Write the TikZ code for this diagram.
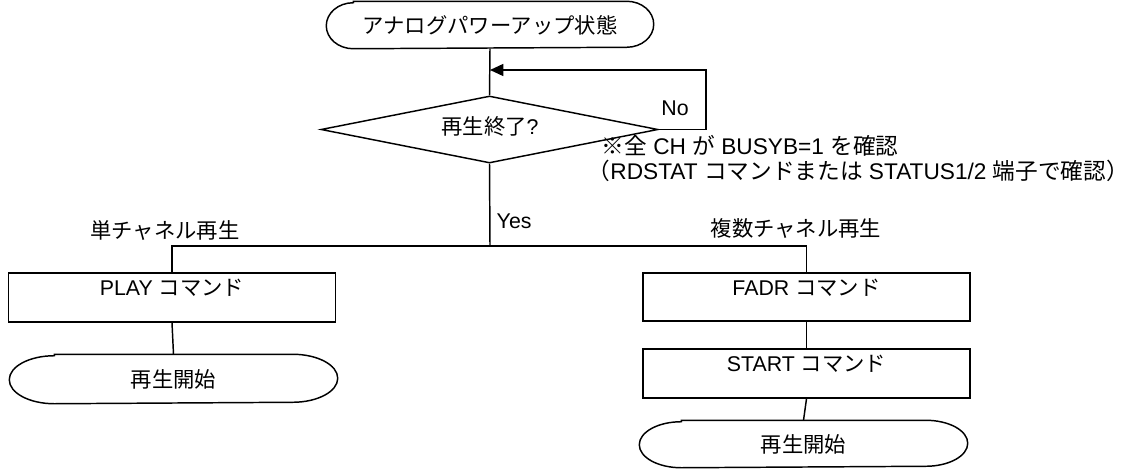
\documentclass[tikz,border=0pt]{standalone}
\usepackage{fontspec}
\setmainfont{Liberation Sans}
\newfontfamily\jp{Noto Sans CJK JP}
\usetikzlibrary{shapes.geometric,arrows.meta}
\newcommand{\mystadium}[3]{%
  \draw ([xshift=#2]#1.north west) -- ([xshift=-#2]#1.north east)
    arc[start angle=90,end angle=-90,x radius=#2,y radius=#3]
    -- ([xshift=#2]#1.south west)
    arc[start angle=270,end angle=90,x radius=#2,y radius=#3] -- cycle;}
\begin{document}
\begin{tikzpicture}[x=0.75pt,y=-0.75pt,line width=1.1pt,
  font=\fontsize{16}{19}\selectfont,
  box/.style={draw,rectangle,minimum width=245.25pt,minimum height=36.75pt,inner sep=0pt},
  termnode/.style={rectangle,inner sep=0pt,minimum width=245.25pt},
  dia/.style={draw,diamond,aspect=6,minimum width=252.75pt,minimum height=50.25pt,inner sep=0pt},
  txt/.style={inner sep=0pt},
  notetxt/.style={txt,anchor=west,font=\fontsize{17}{20}\selectfont},
  boxlabel/.style={txt,anchor=center,yshift=-11.25pt},
  arr/.style={-{Triangle[length=10pt,width=9pt]}}]
\useasboundingbox (0,0) rectangle (1137,468);

% nodes
\node[termnode,minimum width=244.5pt,minimum height=34.5pt] (t0) at (490,25) {\jp アナログパワーアップ状態};
\mystadium{t0}{20.25pt}{17.25pt}

\node[dia] (d) at (489.5,129.5) {};
\node[txt] (dtxt) at (490,126) {{\jp 再生終了}?};

\node[box,label={[boxlabel]north:PLAY {\jp コマンド}}] (play) at (172,297.5) {};
\node[box,minimum height=36pt,label={[boxlabel]north:FADR {\jp コマンド}}] (fadr) at (806.5,297) {};
\node[box,label={[boxlabel]north:START {\jp コマンド}}] (start) at (806.5,373.5) {};

\node[termnode,minimum height=36pt] (t1) at (173.5,379) {\jp 再生開始};
\mystadium{t1}{33.75pt}{18pt}
\node[termnode,minimum height=34.5pt] (t2) at (803.5,444) {\jp 再生開始};
\mystadium{t2}{31.5pt}{17.25pt}

% texts
\node[txt] (no) at (675,108) {No};
\node[txt,anchor=west] (yes) at (496,221) {Yes};
\node[txt] (single) at (165,230) {\jp 単チャネル再生};
\node[txt] (multi) at (796,228) {\jp 複数チャネル再生};
\node[notetxt] (note1) at (601,146) {{\jp ※全} CH {\jp が} BUSYB=1 {\jp を確認}};
\node[notetxt] (note2) at (587,171) {{\jp （}RDSTAT {\jp コマンドまたは} STATUS1/2 {\jp 端子で確認）}};

% coordinates
\coordinate (lp) at (490,70);
\coordinate (lc) at (706,70);
\coordinate (j) at (490,246);
\coordinate (jl) at (172,246);
\coordinate (jr) at (806.5,246);

% connectors
\draw (t0.south) -- (d.north);
\draw[arr] (d.east) -| (lc) -- (lp);
\draw (d.south) -- (j);
\draw (play.north) -- (jl) -- (jr) -- (fadr.north);
\draw (play.south) -- (t1.north);
\draw (fadr.south) -- (start.north);
\draw (start.south) -- (t2.north);
\end{tikzpicture}
\end{document}
